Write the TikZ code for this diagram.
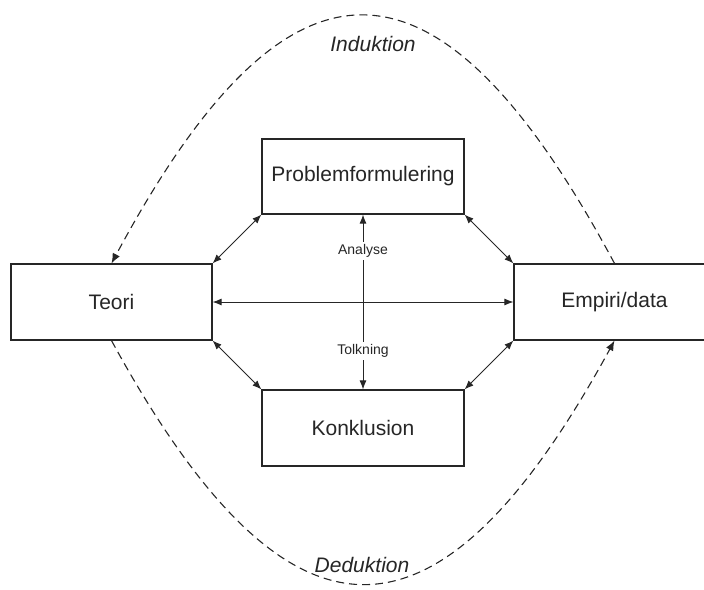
\documentclass[tikz,border=0pt]{standalone}
\usepackage{fontspec}
\setmainfont{Liberation Sans}
\usetikzlibrary{arrows.meta}
\definecolor{ink}{HTML}{262626}
\tikzset{
  box/.style={draw=ink, line width=1.2pt, fill=white, text=ink,
    minimum width=201pt, minimum height=76pt, inner sep=0pt,
    font=\fontsize{21}{25}\selectfont},
  link/.style={draw=ink, line width=0.9pt,
    {Latex[length=9pt,width=7pt]}-{Latex[length=9pt,width=7pt]}},
  loop/.style={draw=ink, line width=1.1pt, dash pattern=on 8pt off 5pt,
    -{Latex[length=10pt,width=8pt]}},
  small/.style={fill=white, text=ink, inner sep=2pt,
    font=\fontsize{14}{16}\selectfont},
  big/.style={text=ink, inner sep=0pt,
    font=\fontsize{21}{25}\selectfont\itshape}
}
\begin{document}
\begin{tikzpicture}[x=1pt, y=-1pt]
  \useasboundingbox (0,0) rectangle (704,589);
  \clip (0,0) rectangle (704,589);

  % the four boxes
  \node[box] (t) at (111.5,302) {Teori};
  \node[box] (e) at (614.5,302) {Empiri/data};
  \node[box, minimum width=202pt, minimum height=75pt] (p) at (363,176.5) {Problemformulering};
  \node[box, minimum width=202pt] (k) at (363,428) {Konklusion};

  % induction and deduction loops
  \draw[loop] (e.north) .. controls +(-177,-330) and +(177,-330) .. (t.north);
  \draw[loop] (t.south) .. controls +(177,324) and +(-177,324) .. (e.south);
  \node[big] (ind) at (373,44) {Induktion};
  \node[big] (ded) at (362,565) {Deduktion};

  % links between the boxes
  \draw[link] (t.east) -- (e.west);
  \draw[link] (p.south) -- (k.north);
  \draw[link] (p.south west) -- (t.north east);
  \draw[link] (p.south east) -- (e.north west);
  \draw[link] (k.north west) -- (t.south east);
  \draw[link] (k.north east) -- (e.south west);

  % labels on the vertical link
  \node[small] (an) at (363,251) {Analyse};
  \node[small] (tk) at (363,351) {Tolkning};
\end{tikzpicture}
\end{document}
